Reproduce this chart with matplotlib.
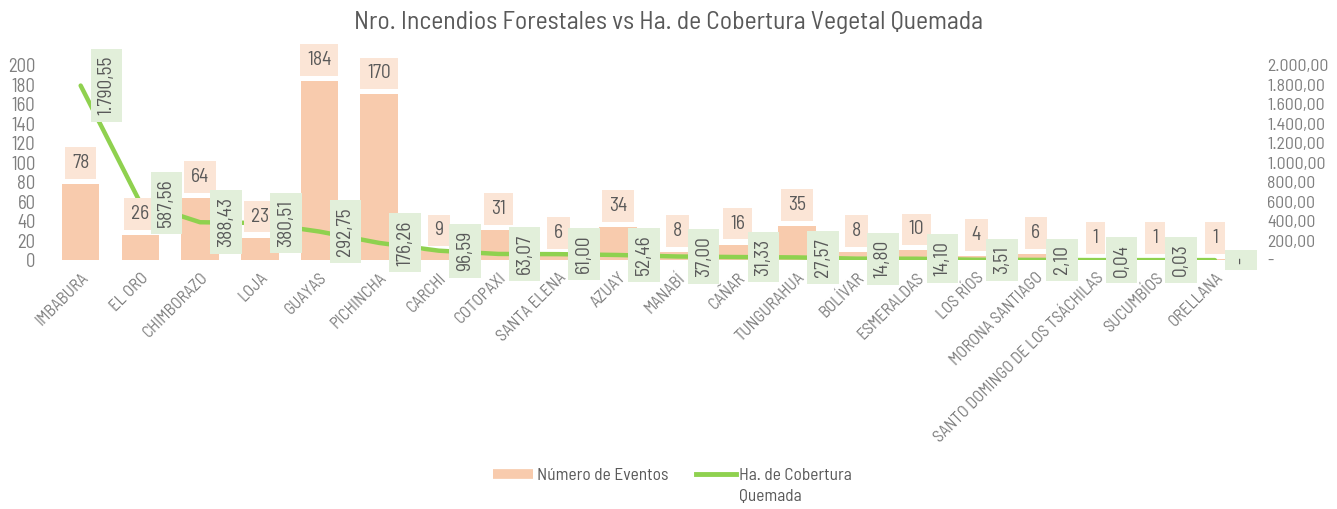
import matplotlib
matplotlib.use("Agg")
import matplotlib.pyplot as plt
from matplotlib.ticker import FuncFormatter, MultipleLocator
from matplotlib.lines import Line2D

plt.rcParams['font.family'] = ['Barlow Semi Condensed', 'DejaVu Sans']
plt.rcParams['font.weight'] = 'light'

provincias = ["IMBABURA", "EL ORO", "CHIMBORAZO", "LOJA", "GUAYAS", "PICHINCHA",
              "CARCHI", "COTOPAXI", "SANTA ELENA", "AZUAY", "MANABÍ", "CAÑAR",
              "TUNGURAHUA", "BOLÍVAR", "ESMERALDAS", "LOS RÍOS", "MORONA SANTIAGO",
              "SANTO DOMINGO DE LOS TSÁCHILAS", "SUCUMBÍOS", "ORELLANA"]
eventos = [78, 26, 64, 23, 184, 170, 9, 31, 6, 34, 8, 16, 35, 8, 10, 4, 6, 1, 1, 1]
hectareas = [1790.55, 587.56, 388.43, 380.51, 292.75, 176.26, 96.59, 63.07, 61.00,
             52.46, 37.00, 31.33, 27.57, 14.80, 14.10, 3.51, 2.10, 0.04, 0.03, 0.0]

GRIS = "#595959"
GRIS_EJE = "#7f7f7f"
COLOR_BARRA = "#f8cbad"
COLOR_LINEA = "#8fd14f"


def fmt_es(v):
    # formato 1.234,56 ; cero como "-"
    if v == 0:
        return "-"
    s = f"{v:,.2f}"
    return s.replace(",", "X").replace(".", ",").replace("X", ".")


fig = plt.figure(figsize=(13.37, 5.09), dpi=100)
ax = fig.add_axes([0.038, 0.489, 0.893, 0.383])
ax2 = ax.twinx()

x = list(range(len(provincias)))
ax.bar(x, eventos, width=0.63, color=COLOR_BARRA, zorder=1)
ax2.plot(x, hectareas, color=COLOR_LINEA, linewidth=3.2, solid_capstyle='round', zorder=2)

ax.set_xlim(-0.5, len(provincias) - 0.5)
ax.set_ylim(0, 200)
ax2.set_ylim(0, 2000)
ax.yaxis.set_major_locator(MultipleLocator(20))
ax2.yaxis.set_major_locator(MultipleLocator(200))
ax2.yaxis.set_major_formatter(FuncFormatter(lambda v, p: fmt_es(v)))

for a in (ax, ax2):
    for sp in a.spines.values():
        sp.set_visible(False)
    a.tick_params(axis='both', length=0, colors=GRIS_EJE, labelsize=13.5)

ax.tick_params(axis='y', pad=11)
ax2.tick_params(axis='y', pad=16, labelsize=12.8)
ax.set_xticks(x)
ax.set_xticklabels(provincias, rotation=45, ha='right', rotation_mode='anchor', fontsize=12)
ax.tick_params(axis='x', pad=7)
for t in ax.get_xticklabels() + ax.get_yticklabels() + ax2.get_yticklabels():
    t.set_fontweight('normal')

# etiquetas de barras
for xi, v in zip(x, eventos):
    yv = v * 10
    ax2.annotate(str(v), (xi, yv), xytext=(0, 21), textcoords='offset pixels',
                 ha='center', va='center', fontsize=14, color=GRIS, zorder=5,
                 fontweight='normal',
                 bbox=dict(boxstyle='square,pad=0.35', fc="#fbe5d6", ec='none'))

# etiquetas de la linea
for xi, v in zip(x, hectareas):
    ax2.annotate(fmt_es(v), (xi, v), xytext=(26, 0), textcoords='offset pixels',
                 ha='center', va='center', rotation=90, fontsize=14, color=GRIS, zorder=6,
                 fontweight='normal',
                 bbox=dict(boxstyle='square,pad=0.35', fc="#e2efda", ec='none'))

fig.suptitle("Nro. Incendios Forestales vs Ha. de Cobertura Vegetal Quemada",
             y=0.978, fontsize=18.5, color=GRIS)

# leyenda: la segunda etiqueta ocupa dos lineas, alineada arriba
handles = [Line2D([0], [0], color=COLOR_BARRA, linewidth=7, solid_capstyle='butt'),
           Line2D([0], [0], color=COLOR_LINEA, linewidth=3.5)]
leg = fig.legend(handles, ["Número de Eventos", "Ha. de Cobertura"],
                 loc='center', bbox_to_anchor=(0.503, 1 - 475 / 509), ncol=2, frameon=False,
                 prop={'size': 12.5, 'weight': 'normal'}, labelcolor=GRIS,
                 handlelength=2.3, handletextpad=0.2, columnspacing=1.6)
fig.canvas.draw()
bb = leg.get_texts()[1].get_window_extent(fig.canvas.get_renderer())
fig.text(bb.x0 / fig.bbox.width, (bb.y0 - 6) / fig.bbox.height, "Quemada",
         ha='left', va='top', fontsize=12.5, fontweight='normal', color=GRIS)

fig.savefig("out.png", dpi=100)
